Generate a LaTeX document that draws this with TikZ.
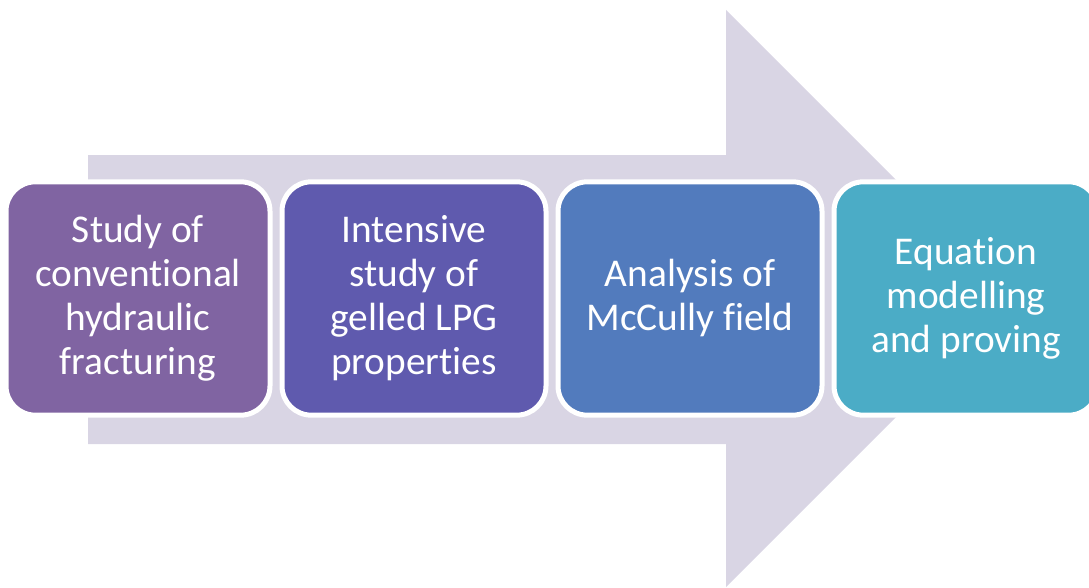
\documentclass[tikz,border=0pt]{standalone}
\usepackage{fontspec}
\setmainfont{Carlito}[Ligatures=CommonOff]
\usepackage{xcolor}
\usepackage{tikz}

\definecolor{arrowgray}{HTML}{D9D5E4}
\definecolor{stepA}{HTML}{8064A2}
\definecolor{stepB}{HTML}{5F5AAE}
\definecolor{stepC}{HTML}{527BBD}
\definecolor{stepD}{HTML}{4BACC6}

\tikzset{
  stepbox/.style={rectangle, rounded corners=22pt, draw=white, line width=3.75pt,
    minimum width=198pt, minimum height=175pt, align=center, text=white,
    font=\fontsize{29.5}{33}\selectfont}
}

\begin{document}
\begin{tikzpicture}[x=0.75pt, y=0.75pt]
    \useasboundingbox (0,0) rectangle (1089,587);

    % Background arrow
    \fill[arrowgray] (88,143) -- (726,143) -- (726,0) -- (1014.5,288.5)
        -- (726,577) -- (726,432) -- (88,432) -- cycle;

    % Steps along the arrow
    \node[stepbox, fill=stepA] (study) at (138,288.5)
        {Study of\\conventional\\hydraulic\\fracturing};
    \node[stepbox, fill=stepB] (gelled) at (414,288.5)
        {Intensive\\study of\\gelled LPG\\properties};
    \node[stepbox, fill=stepC] (field) at (690,288.5)
        {Analysis of\\McCully field};
    \node[stepbox, fill=stepD] (model) at (966,288.5)
        {Equation\\modelling\\and proving};
\end{tikzpicture}
\end{document}
